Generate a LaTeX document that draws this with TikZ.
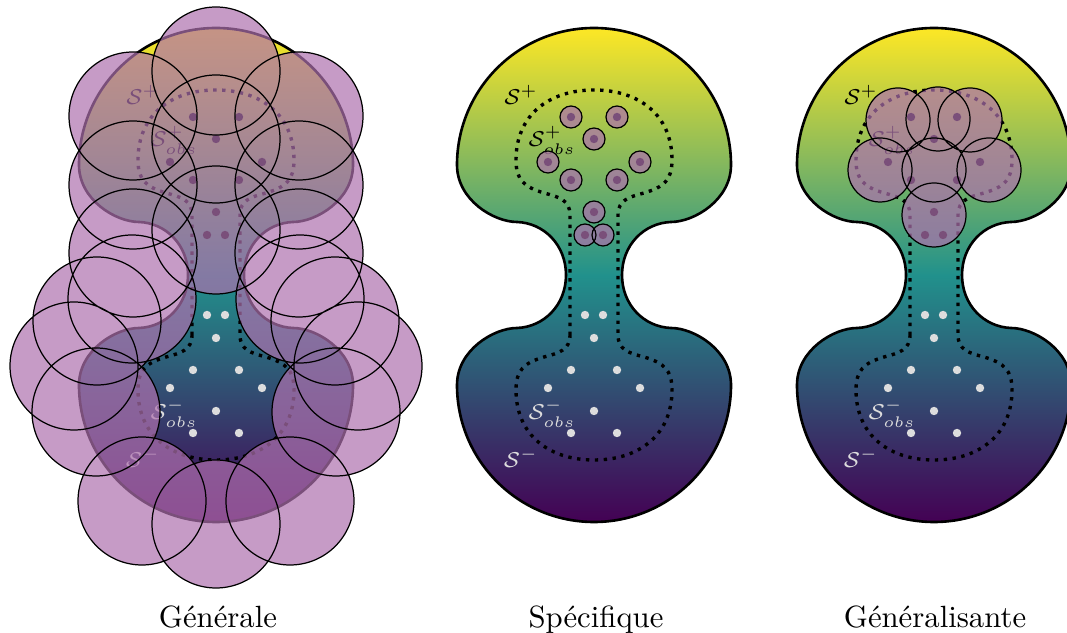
\documentclass[tikz,border=0pt]{standalone}
\usepackage{tikz}

\definecolor{vir0}{HTML}{440154}
\definecolor{vir5}{HTML}{21918C}
\definecolor{vir10}{HTML}{FDE725}
\definecolor{hypcol}{RGB}{174,113,174}
\definecolor{negcol}{RGB}{221,221,221}

\pgfdeclareverticalshading{viridis}{100bp}{color(0bp)=(vir0); color(25bp)=(vir0);
  color(50bp)=(vir5); color(75bp)=(vir10); color(100bp)=(vir10)}

% the whole space S (two lobes and a neck)
\newcommand{\espace}{(0,247) arc (90:180:137)
  .. controls (-137,75) and (-100,53) .. (-77,53)
  .. controls (-50,52) and (-28,30) .. (-28,0)
  .. controls (-28,-30) and (-50,-52) .. (-77,-53)
  .. controls (-100,-53) and (-137,-75) .. (-137,-110)
  arc (180:360:137)
  .. controls (137,-75) and (100,-53) .. (77,-53)
  .. controls (50,-52) and (28,-30) .. (28,0)
  .. controls (28,30) and (50,52) .. (77,53)
  .. controls (100,53) and (137,75) .. (137,110)
  arc (0:90:137) -- cycle}

% the observed part
\newcommand{\observe}{(-24,-60) -- (-24,60)
  .. controls (-24,75) and (-35,78) .. (-50,82)
  .. controls (-70,88) and (-78,95) .. (-78,115)
  .. controls (-78,160) and (-45,185) .. (0,185)
  .. controls (45,185) and (78,160) .. (78,115)
  .. controls (78,95) and (70,88) .. (50,82)
  .. controls (35,78) and (24,75) .. (24,60)
  -- (24,-60)
  .. controls (24,-75) and (35,-78) .. (50,-82)
  .. controls (70,-88) and (78,-95) .. (78,-115)
  .. controls (78,-160) and (45,-185) .. (0,-185)
  .. controls (-45,-185) and (-78,-160) .. (-78,-115)
  .. controls (-78,-95) and (-70,-88) .. (-50,-82)
  .. controls (-35,-78) and (-24,-75) .. (-24,-60) -- cycle}

\begin{document}
\begin{tikzpicture}[x=0.3255pt,y=0.3255pt,
    outline/.style={line width=0.85pt},
    obsline/.style={line width=1.1pt,dash pattern=on 1.1pt off 1.8pt},
    hyp/.style={fill=hypcol,fill opacity=0.7},
    hypline/.style={line width=0.4pt},
    lab/.style={inner sep=0pt,font=\scriptsize},
    legende/.style={anchor=base,inner sep=0pt}]

\useasboundingbox (0,0) rectangle (1067,633);

\foreach \cx/\name in {216/gen,594/spe,934/glz}{
  \begin{scope}[shift={(\cx,358)}]
    \shade[shading=viridis] \espace;
    \draw[outline] \espace;
    \draw[obsline] \observe;
    \foreach \px/\py in {-23/158,23/158,0/136,-46/113,46/113,-23/95,23/95,0/63,-9/40,9/40}{
      \fill (\px,\py) circle (4.2);
      \fill[negcol] (\px,-\py) circle (4.2);
    }
    \node[lab] (\name-sp) at (-73,180) {$\mathcal{S}^+$};
    \node[lab] (\name-spo) at (-42,135) {$\mathcal{S}^+_{obs}$};
    \node[lab,text=negcol] (\name-smo) at (-42,-138) {$\mathcal{S}^-_{obs}$};
    \node[lab,text=negcol] (\name-sm) at (-73,-183) {$\mathcal{S}^-$};
  \end{scope}
}

% generale
\begin{scope}[shift={(216,358)}]
  \fill[hyp] \foreach \hx/\hy in {0/204,-83/159,83/159,0/136,-83/90,83/90,0/45,-83/22,83/22,
      -84/-24,84/-24,-119/-46,119/-46,-142/-91,142/-91,-120/-137,120/-137,-74/-226,74/-226,0/-249}
    {(\hx,\hy) circle (64)};
  \draw[hypline] \foreach \hx/\hy in {0/204,-83/159,83/159,0/136,-83/90,83/90,0/45,-83/22,83/22,
      -84/-24,84/-24,-119/-46,119/-46,-142/-91,142/-91,-120/-137,120/-137,-74/-226,74/-226,0/-249}
    {(\hx,\hy) circle (64)};
\end{scope}

% specifique
\begin{scope}[shift={(594,358)}]
  \fill[hyp] \foreach \hx/\hy in {-23/158,23/158,0/136,-46/113,46/113,-23/95,23/95,0/63,-9/40,9/40}
    {(\hx,\hy) circle (11)};
  \draw[hypline] \foreach \hx/\hy in {-23/158,23/158,0/136,-46/113,46/113,-23/95,23/95,0/63,-9/40,9/40}
    {(\hx,\hy) circle (11)};
\end{scope}

% generalisante
\begin{scope}[shift={(934,358)}]
  \fill[hyp] \foreach \hx/\hy in {-36/155,4/156,36/155,-54/105,0/105,55/105,0/60}
    {(\hx,\hy) circle (32)};
  \draw[hypline] \foreach \hx/\hy in {-36/155,4/156,36/155,-54/105,0/105,55/105,0/60}
    {(\hx,\hy) circle (32)};
\end{scope}

\node[legende] (leg-gen) at (218,5) {Générale};
\node[legende] (leg-spe) at (596,5) {Spécifique};
\node[legende] (leg-glz) at (935,5) {Généralisante};

\end{tikzpicture}
\end{document}
